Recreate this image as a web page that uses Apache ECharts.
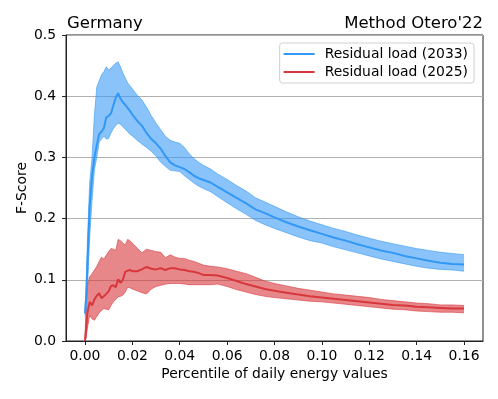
<!DOCTYPE html>
<html>
<head>
<meta charset="utf-8">
<script src="https://cdn.jsdelivr.net/npm/echarts@6/dist/echarts.min.js"></script>
<style>
  html, body { margin: 0; padding: 0; background: #fff; }
  #chart { width: 498px; height: 399px; }
</style>
</head>
<body>
<div id="chart"></div>
<script>
// percentile grid (shared by both series)
const xs = [0, 0.0005, 0.001, 0.002, 0.003, 0.004, 0.005, 0.006, 0.007, 0.008, 0.009,
  0.010, 0.011, 0.012, 0.013, 0.014, 0.015, 0.016, 0.017, 0.018, 0.019, 0.020,
  0.022, 0.024, 0.026, 0.028, 0.030, 0.032, 0.034, 0.036, 0.038, 0.040, 0.042,
  0.044, 0.046, 0.048, 0.050, 0.053, 0.056, 0.060, 0.064, 0.068, 0.072, 0.076,
  0.080, 0.085, 0.090, 0.095, 0.100, 0.105, 0.110, 0.115, 0.120, 0.125, 0.130,
  0.135, 0.140, 0.145, 0.150, 0.155, 0.160]

// Residual load (2033)
const blueMean = [0.045, 0.07, 0.12, 0.22, 0.27, 0.30, 0.32, 0.338, 0.342, 0.348, 0.365,
  0.368, 0.372, 0.385, 0.398, 0.405, 0.396, 0.39, 0.386, 0.381, 0.376, 0.37,
  0.36, 0.352, 0.34, 0.33, 0.323, 0.314, 0.302, 0.292, 0.287, 0.284, 0.281,
  0.276, 0.27, 0.266, 0.263, 0.259, 0.252, 0.243, 0.234, 0.225, 0.215, 0.209,
  0.202, 0.194, 0.187, 0.181, 0.175, 0.169, 0.164, 0.158, 0.153, 0.148, 0.144,
  0.139, 0.135, 0.131, 0.128, 0.126, 0.125]
const blueHigh = [0.05, 0.09, 0.16, 0.26, 0.30, 0.37, 0.415, 0.425, 0.435, 0.44, 0.448,
  0.443, 0.446, 0.45, 0.454, 0.456, 0.448, 0.438, 0.43, 0.422, 0.417, 0.412,
  0.402, 0.394, 0.382, 0.368, 0.356, 0.345, 0.334, 0.328, 0.325, 0.323, 0.316,
  0.306, 0.298, 0.292, 0.287, 0.281, 0.273, 0.264, 0.254, 0.245, 0.234, 0.227,
  0.22, 0.211, 0.203, 0.196, 0.19, 0.184, 0.179, 0.173, 0.168, 0.163, 0.159,
  0.155, 0.151, 0.148, 0.145, 0.143, 0.141]
const blueLow = [0.04, 0.05, 0.08, 0.17, 0.23, 0.28, 0.30, 0.325, 0.33, 0.335, 0.33,
  0.331, 0.34, 0.347, 0.352, 0.356, 0.354, 0.35, 0.346, 0.342, 0.338, 0.335,
  0.328, 0.322, 0.316, 0.31, 0.302, 0.292, 0.285, 0.279, 0.278, 0.277, 0.27,
  0.264, 0.258, 0.253, 0.249, 0.244, 0.236, 0.226, 0.216, 0.207, 0.197, 0.19,
  0.184, 0.177, 0.17, 0.164, 0.16, 0.154, 0.149, 0.144, 0.139, 0.134, 0.13,
  0.126, 0.122, 0.119, 0.117, 0.116, 0.114]

// Residual load (2025)
const redMean = [0.0, 0.02, 0.045, 0.064, 0.058, 0.068, 0.074, 0.078, 0.07, 0.073, 0.077,
  0.081, 0.09, 0.091, 0.088, 0.101, 0.095, 0.1, 0.113, 0.115, 0.116, 0.114,
  0.114, 0.117, 0.121, 0.118, 0.117, 0.119, 0.116, 0.119, 0.119, 0.117, 0.116,
  0.114, 0.113, 0.111, 0.108, 0.108, 0.107, 0.103, 0.098, 0.093, 0.089, 0.085,
  0.082, 0.079, 0.076, 0.073, 0.071, 0.069, 0.067, 0.065, 0.063, 0.061, 0.059,
  0.058, 0.056, 0.055, 0.054, 0.053, 0.053]
const redHigh = [0.005, 0.06, 0.09, 0.105, 0.11, 0.116, 0.122, 0.13, 0.137, 0.134, 0.14,
  0.146, 0.151, 0.15, 0.148, 0.166, 0.164, 0.16, 0.157, 0.166, 0.164, 0.16,
  0.152, 0.144, 0.15, 0.148, 0.146, 0.145, 0.136, 0.141, 0.137, 0.135, 0.135,
  0.132, 0.13, 0.127, 0.124, 0.122, 0.121, 0.118, 0.114, 0.11, 0.104, 0.098,
  0.094, 0.09, 0.086, 0.083, 0.08, 0.077, 0.075, 0.073, 0.071, 0.068, 0.066,
  0.064, 0.062, 0.061, 0.059, 0.059, 0.058]
const redLow = [0.0, 0.005, 0.02, 0.042, 0.036, 0.034, 0.04, 0.046, 0.05, 0.053, 0.052,
  0.051, 0.058, 0.064, 0.068, 0.072, 0.073, 0.075, 0.08, 0.088, 0.087, 0.085,
  0.082, 0.079, 0.077, 0.085, 0.089, 0.091, 0.093, 0.094, 0.094, 0.094, 0.093,
  0.092, 0.092, 0.092, 0.092, 0.092, 0.093, 0.089, 0.084, 0.08, 0.076, 0.073,
  0.071, 0.069, 0.067, 0.065, 0.064, 0.062, 0.06, 0.058, 0.056, 0.054, 0.052,
  0.051, 0.049, 0.048, 0.047, 0.047, 0.046]

const xTicks = [0, 0.02, 0.04, 0.06, 0.08, 0.10, 0.12, 0.14, 0.16]

const BLUE = '#3398f5'
const RED = '#d8373c'
const FONT = 'DejaVu Sans'
const FS = 13.9

const pairs = (vals) => xs.map((x, i) => [x, vals[i]])

// shaded band between low and high, drawn as one polygon through the axes
const band = (low, high, rgb, alpha) => ({
  type: 'custom',
  silent: true,
  data: [[xs[0], low[0]]],
  renderItem: (params, api) => {
    const top = xs.map((x, i) => api.coord([x, high[i]]))
    const bottom = xs.map((x, i) => api.coord([x, low[i]]))
    const edge = { fill: null, stroke: `rgba(${rgb},${alpha})`, lineWidth: 1 }
    return {
      type: 'group',
      children: [
        { type: 'polygon', shape: { points: top.concat(bottom.slice().reverse()) },
          style: { fill: `rgba(${rgb},${alpha})` } },
        { type: 'polyline', shape: { points: top }, style: edge },
        { type: 'polyline', shape: { points: bottom }, style: edge }
      ]
    }
  }
})

const chart = echarts.init(document.getElementById('chart'), null, { renderer: 'canvas' })

chart.setOption({
  animation: false,
  textStyle: { fontFamily: FONT },
  title: [
    { text: 'Germany', left: 62, top: 10,
      textStyle: { fontFamily: FONT, fontSize: 16.5, fontWeight: 'normal', color: '#000' } },
    { text: "Method Otero'22", right: 10, top: 10,
      textStyle: { fontFamily: FONT, fontSize: 16.5, fontWeight: 'normal', color: '#000' } }
  ],
  legend: {
    data: ['Residual load (2033)', 'Residual load (2025)'],
    orient: 'vertical',
    right: 24, top: 43,
    padding: [4, 6, 4, 4],
    itemGap: 4,
    itemWidth: 31, itemHeight: 2,
    icon: 'rect',
    backgroundColor: '#fff',
    borderColor: '#d0d0d0', borderWidth: 1, borderRadius: 3,
    textStyle: { fontFamily: FONT, fontSize: FS, color: '#000', padding: [0, 0, 0, 5] }
  },
  grid: {
    left: 66, right: 15, top: 35, bottom: 58,
    show: true, borderColor: '#222', borderWidth: 1
  },
  xAxis: {
    type: 'value', min: -0.008, max: 0.168,
    name: 'Percentile of daily energy values',
    nameLocation: 'middle', nameGap: 26, nameMoveOverlap: false,
    nameTextStyle: { fontFamily: FONT, fontSize: FS, color: '#000' },
    axisLine: { show: true, onZero: false, lineStyle: { color: '#222', width: 1 } },
    axisTick: { show: true, length: 4, lineStyle: { color: '#222' }, customValues: xTicks },
    axisLabel: { fontFamily: FONT, fontSize: FS, color: '#000', margin: 8,
      customValues: xTicks, formatter: v => v.toFixed(2) },
    splitLine: { show: false }
  },
  yAxis: {
    type: 'value', min: 0, max: 0.5, interval: 0.1,
    name: 'F-Score',
    nameLocation: 'middle', nameGap: 37, nameRotate: 90, nameMoveOverlap: false,
    nameTextStyle: { fontFamily: FONT, fontSize: FS, color: '#000' },
    axisLine: { show: true, onZero: false, lineStyle: { color: '#222', width: 1 } },
    axisTick: { show: true, length: 4, lineStyle: { color: '#222' } },
    axisLabel: { fontFamily: FONT, fontSize: FS, color: '#000', margin: 10,
      formatter: v => v.toFixed(1) },
    splitLine: { show: true, lineStyle: { color: '#b0b0b0', width: 1 } }
  },
  series: [
    band(redLow, redHigh, '216,55,60', 0.6),
    band(blueLow, blueHigh, '51,152,245', 0.58),
    {
      name: 'Residual load (2025)', type: 'line', data: pairs(redMean),
      symbol: 'none', color: RED, lineStyle: { width: 2, color: RED }, z: 3
    },
    {
      name: 'Residual load (2033)', type: 'line', data: pairs(blueMean),
      symbol: 'none', color: BLUE, lineStyle: { width: 2, color: BLUE }, z: 3
    }
  ]
})
</script>
</body>
</html>
